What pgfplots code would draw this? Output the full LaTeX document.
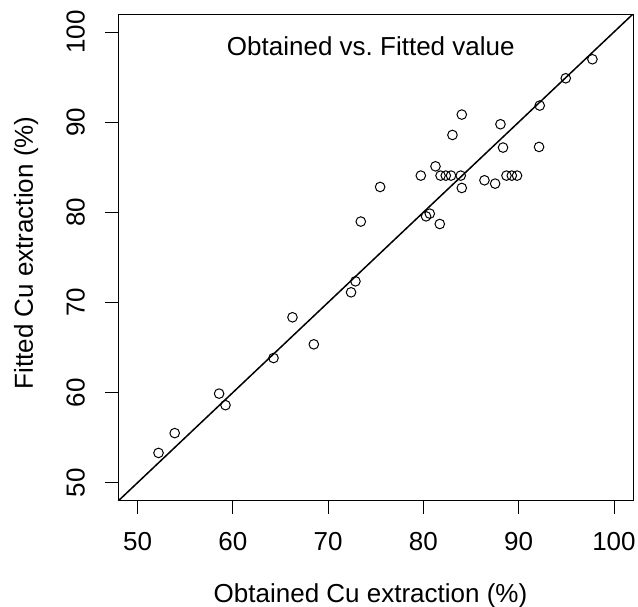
\documentclass[border=0pt]{standalone}
\usepackage{fontspec}
\setmainfont{Liberation Sans}
\usepackage{pgfplots}
\pgfplotsset{compat=1.18}
\begin{document}
\frenchspacing
\fontsize{26bp}{31bp}\selectfont
\begin{tikzpicture}
\path[use as bounding box] (-118.5bp,-106.3bp) rectangle (519.5bp,500.7bp);
\begin{axis}[
  at={(0,0)}, anchor=south west,
  scale only axis, width=514.5bp, height=486.7bp,
  xmin=48, xmax=102, ymin=48, ymax=102,
  xtick={50,60,70,80,90,100}, ytick={50,60,70,80,90,100},
  tick pos=left, tick align=outside, major tick length=13.5bp,
  tick style={black, line width=0.8bp},
  axis line style={black, line width=0.8bp},
  /pgf/number format/assume math mode=true,
  xticklabel style={anchor=north, inner sep=0pt, outer sep=0pt},
  yticklabel style={rotate=90, anchor=south, inner sep=0pt, outer sep=0pt},
  xticklabel shift=18.5bp,
  yticklabel shift=20bp,
  xlabel={Obtained Cu extraction (\%)},
  ylabel={Fitted Cu extraction (\%)},
  xlabel style={at={(axis description cs:0.4898,0)}, anchor=base, yshift=-102bp},
  ylabel style={at={(axis description cs:-0.1662,0.509)}, anchor=base},
  clip=true,
]
\addplot[black, line width=1.5bp] coordinates {(48,48) (102,102)};
\addplot[only marks, mark=o, mark size=4.8bp, mark options={black, line width=1bp}] coordinates {
(52.2,53.3) (53.9,55.5) (58.56,59.88) (59.23,58.6) (64.27,63.83) (66.26,68.35)
(68.5,65.35) (72.41,71.12) (72.87,72.34) (73.43,78.97) (75.46,82.81) (79.73,84.07)
(80.28,79.55) (80.67,79.85) (81.72,78.7) (81.27,85.1) (81.8,84.07) (82.35,84.07)
(82.9,84.07) (83.92,84.07) (84.03,82.7) (83.05,88.58) (84.03,90.84) (86.41,83.55)
(87.53,83.18) (88.72,84.07) (89.28,84.07) (89.83,84.07) (88.36,87.18) (88.09,89.77)
(92.14,87.25) (92.21,91.84) (94.94,94.87) (97.74,96.98)
};
\node[anchor=base] at (axis cs:74.48,97.43) {Obtained vs.\ Fitted value};
\end{axis}
\end{tikzpicture}
\end{document}
